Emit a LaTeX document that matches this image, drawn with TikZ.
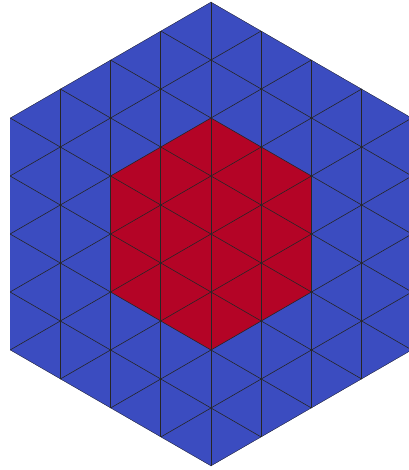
\documentclass[tikz,border=0pt]{standalone}
\definecolor{cwblue}{HTML}{3B4CC0}
\definecolor{cwred}{HTML}{B40426}
\tikzset{gridline/.style={draw=black!85, line width=0.6pt}}
\begin{document}
\begin{tikzpicture}[x=1pt,y=-1pt]
\useasboundingbox (0,0) rectangle (408,470);
\def\cx{211}\def\cy{234}\def\s{58}
\pgfmathsetmacro{\h}{\s*sqrt(3)/2}
% outer hexagon
\path[fill=cwblue] (\cx,\cy-4*\s) -- (\cx+4*\h,\cy-2*\s) -- (\cx+4*\h,\cy+2*\s) -- (\cx,\cy+4*\s) -- (\cx-4*\h,\cy+2*\s) -- (\cx-4*\h,\cy-2*\s) -- cycle;
% inner hexagon
\path[fill=cwred] (\cx,\cy-2*\s) -- (\cx+2*\h,\cy-\s) -- (\cx+2*\h,\cy+\s) -- (\cx,\cy+2*\s) -- (\cx-2*\h,\cy+\s) -- (\cx-2*\h,\cy-\s) -- cycle;
\begin{scope}
\clip (\cx,\cy-4*\s) -- (\cx+4*\h,\cy-2*\s) -- (\cx+4*\h,\cy+2*\s) -- (\cx,\cy+4*\s) -- (\cx-4*\h,\cy+2*\s) -- (\cx-4*\h,\cy-2*\s) -- cycle;
\foreach \k in {-3,...,3} {
  \draw[gridline] (\cx+\k*\h,\cy-5*\s) -- (\cx+\k*\h,\cy+5*\s);
}
\foreach \c in {-7,...,7} {
  \draw[gridline] (\cx-5*\h,\cy+\c*\s-2.5*\s) -- (\cx+5*\h,\cy+\c*\s+2.5*\s);
  \draw[gridline] (\cx-5*\h,\cy+\c*\s+2.5*\s) -- (\cx+5*\h,\cy+\c*\s-2.5*\s);
}
\end{scope}
\end{tikzpicture}
\end{document}
